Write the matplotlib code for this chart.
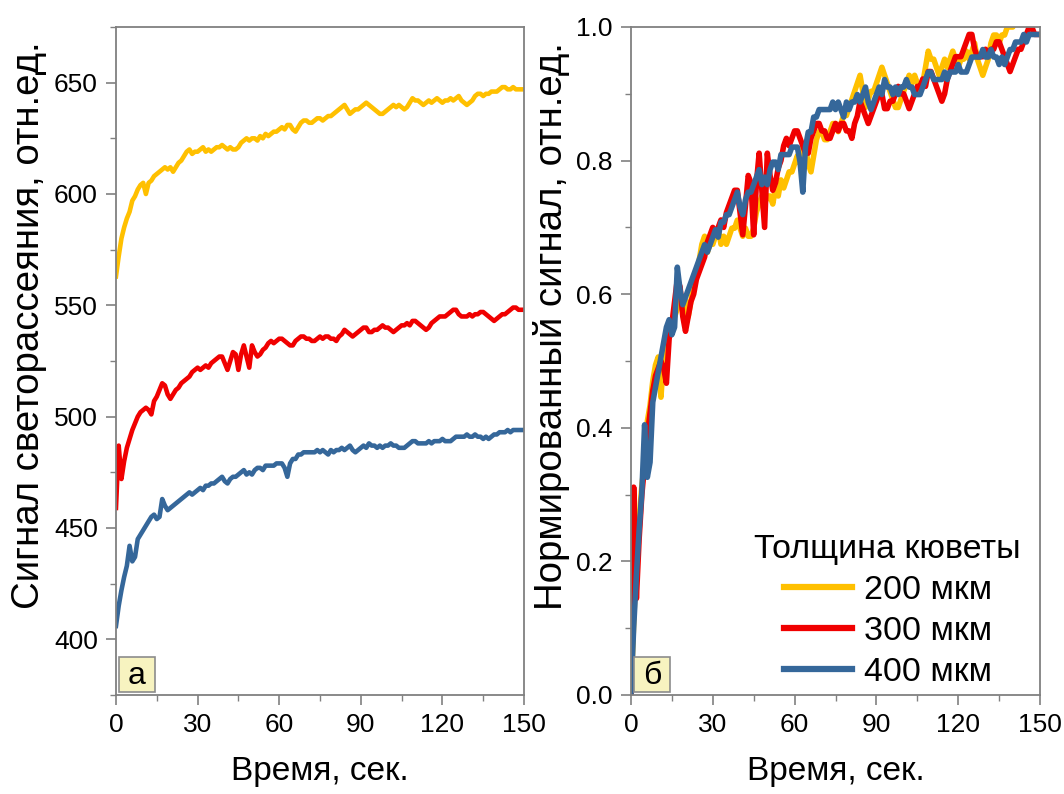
import numpy as np
import matplotlib
matplotlib.use("Agg")
import matplotlib.pyplot as plt
from matplotlib.patches import Rectangle
from matplotlib.ticker import MultipleLocator, FormatStrFormatter

plt.rcParams['font.family'] = ['Liberation Sans', 'DejaVu Sans']

# Time, s (1 s sampling)
time_s = np.arange(0, 151, 1)

# Raw light-scattering signal, arb. units, for three cuvette thicknesses
sig_200 = [
    563, 572, 580, 585, 589, 592, 597, 599, 602, 604,
    605, 600, 605, 606, 608, 609, 610, 611, 612, 611,
    612, 610, 612, 614, 615, 617, 619, 620, 618, 619,
    619, 620, 621, 619, 620, 619, 620, 621, 621, 622,
    621, 620, 621, 620, 620, 621, 623, 624, 625, 624,
    625, 625, 624, 626, 625, 627, 626, 627, 628, 628,
    629, 630, 629, 631, 631, 629, 628, 630, 632, 633,
    633, 632, 632, 633, 634, 634, 633, 634, 635, 635,
    636, 637, 638, 639, 640, 638, 636, 637, 638, 638,
    639, 640, 641, 640, 639, 638, 637, 636, 636, 637,
    638, 639, 640, 639, 640, 639, 638, 639, 641, 643,
    642, 642, 641, 640, 641, 642, 641, 642, 643, 642,
    641, 642, 642, 643, 642, 643, 644, 642, 641, 640,
    641, 642, 644, 645, 645, 644, 645, 645, 646, 646,
    646, 647, 648, 648, 647, 647, 648, 647, 647, 647,
    647,
]
sig_300 = [
    459, 487, 472, 480, 486, 490, 494, 497, 500, 502,
    503, 504, 503, 501, 507, 509, 512, 515, 514, 510,
    508, 510, 512, 513, 515, 516, 517, 518, 520, 521,
    522, 521, 522, 523, 522, 524, 525, 526, 527, 527,
    524, 521, 525, 529, 528, 521, 528, 532, 527, 522,
    532, 529, 527, 528, 530, 531, 533, 534, 533, 534,
    535, 535, 534, 533, 532, 532, 534, 535, 536, 536,
    535, 535, 534, 534, 535, 536, 535, 536, 536, 535,
    535, 534, 536, 537, 539, 538, 537, 536, 537, 538,
    539, 540, 540, 538, 538, 539, 539, 540, 541, 540,
    540, 539, 538, 539, 540, 541, 541, 542, 541, 543,
    543, 542, 541, 540, 539, 540, 542, 543, 544, 545,
    545, 545, 546, 547, 548, 548, 546, 545, 545, 545,
    546, 545, 546, 546, 547, 547, 546, 545, 544, 543,
    544, 545, 546, 546, 547, 548, 549, 549, 548, 548,
    548,
]
sig_400 = [
    406, 415, 422, 428, 433, 442, 435, 437, 445, 447,
    449, 451, 453, 455, 456, 454, 455, 463, 460, 458,
    459, 460, 461, 462, 463, 464, 465, 466, 465, 466,
    467, 468, 467, 469, 469, 470, 470, 471, 472, 473,
    471, 470, 472, 473, 473, 474, 475, 476, 474, 475,
    474, 476, 477, 477, 476, 478, 478, 478, 478, 479,
    479, 479, 477, 473, 479, 481, 481, 483, 483, 484,
    484, 484, 484, 484, 485, 484, 485, 484, 483, 485,
    484, 485, 485, 486, 485, 486, 487, 485, 484, 485,
    486, 487, 486, 488, 487, 487, 486, 487, 486, 487,
    487, 488, 487, 487, 486, 486, 486, 487, 488, 489,
    489, 488, 488, 488, 488, 489, 488, 489, 489, 489,
    490, 489, 489, 489, 490, 491, 491, 491, 491, 492,
    491, 491, 492, 491, 491, 490, 491, 490, 491, 492,
    492, 493, 493, 493, 494, 493, 494, 494, 494, 494,
    494,
]

# Signal level taken as 1.0 for the normalized curves
norm_level = [646, 549, 495]

series_labels = ["200 мкм", "300 мкм", "400 мкм"]
series_colors = ["#FFC000", "#F00000", "#35679A"]
x_ticks = [0, 30, 60, 90, 120, 150]

fig = plt.figure(figsize=(10.64, 7.94), dpi=100)
ax_a = fig.add_axes([0.1090, 0.1247, 0.3835, 0.8413])
ax_b = fig.add_axes([0.5930, 0.1247, 0.3845, 0.8413])

raw = [np.asarray(s, dtype=float) for s in (sig_200, sig_300, sig_400)]

for y, top, c, lab in zip(raw, norm_level, series_colors, series_labels):
    ax_a.plot(time_s, y, color=c, lw=3.3, label=lab, solid_joinstyle='round')
    norm = (y - y.min()) / (top - y.min())
    ax_b.plot(time_s, norm, color=c, lw=4.0, label=lab, solid_joinstyle='round')

ax_a.set_xlim(0, 150)
ax_a.set_ylim(375, 675)
ax_a.yaxis.set_major_locator(MultipleLocator(50))
ax_a.yaxis.set_minor_locator(MultipleLocator(25))
ax_a.set_yticks([400, 450, 500, 550, 600, 650])

ax_b.set_xlim(0, 150)
ax_b.set_ylim(0, 1.0)
ax_b.yaxis.set_major_locator(MultipleLocator(0.2))
ax_b.yaxis.set_minor_locator(MultipleLocator(0.1))
ax_b.yaxis.set_major_formatter(FormatStrFormatter('%.1f'))

spine_color = "#808080"
for ax in (ax_a, ax_b):
    ax.set_xticks(x_ticks)
    ax.xaxis.set_minor_locator(MultipleLocator(15))
    for sp in ax.spines.values():
        sp.set_color(spine_color)
        sp.set_linewidth(1.3)
    ax.tick_params(which='major', direction='out', length=7, width=1.2,
                   color=spine_color, labelsize=19, pad=6)
    ax.tick_params(which='minor', direction='out', length=4, width=1.0,
                   color=spine_color)
    ax.set_xlabel("Время, сек.", fontsize=24, labelpad=14)

ax_a.set_ylabel("Сигнал светорассеяния, отн.ед.", fontsize=27.6)
ax_b.set_ylabel("Нормированный сигнал, отн.ед.", fontsize=27.6)
ax_a.yaxis.set_label_coords(-0.168, 0.553)
ax_b.yaxis.set_label_coords(-0.150, 0.553)

# Panel letters in small framed boxes
for ax, letter in ((ax_a, "а"), (ax_b, "б")):
    ax.add_patch(Rectangle((0.008, 0.005), 0.087, 0.052, transform=ax.transAxes,
                           facecolor='#F7F3C0', edgecolor='#8C8C8C', lw=1.2,
                           zorder=5))
    ax.text(0.0515, 0.029, letter, transform=ax.transAxes, fontsize=23,
            ha='center', va='center', zorder=6)

leg = ax_b.legend(loc='lower right', bbox_to_anchor=(0.97, 0.0), frameon=False,
                  fontsize=24.5, title="Толщина кюветы", title_fontsize=24.5,
                  handlelength=2.0, handletextpad=0.35, labelspacing=0.3,
                  borderaxespad=0.0, borderpad=0.2)
for h in leg.get_lines():
    h.set_linewidth(4.5)

fig.savefig("out.png", dpi=100)
